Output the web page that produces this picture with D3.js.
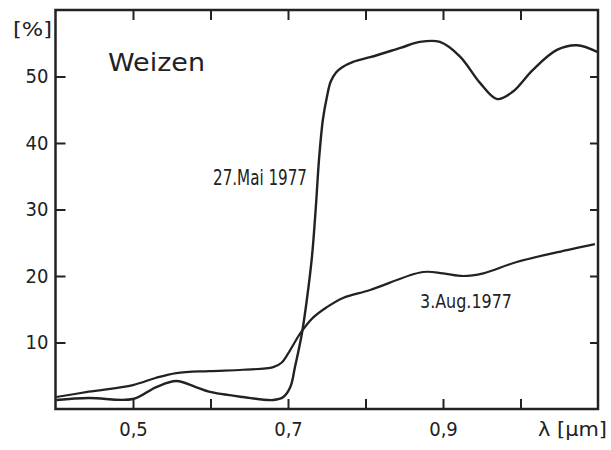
<!DOCTYPE html>
<html>
<head>
<meta charset="utf-8">
<script src="https://cdn.jsdelivr.net/npm/d3@7"></script>
<style>
  body { margin: 0; background: #fff; }
  text { fill: #222; }
</style>
</head>
<body>
<svg id="chart"></svg>
<script>
// wavelength (µm) / reflectance (%)
var maiLambda = [0.401, 0.443, 0.500, 0.530, 0.556, 0.581, 0.598, 0.642, 0.681, 0.694, 0.703, 0.709, 0.718, 0.7245, 0.731, 0.736, 0.740, 0.745, 0.750, 0.755, 0.762, 0.770, 0.784, 0.806, 0.845, 0.870, 0.896, 0.922, 0.948, 0.970, 0.990, 1.016, 1.047, 1.073, 1.099];
var maiValues = [1.35, 1.65, 1.5, 3.3, 4.2, 3.3, 2.6, 1.8, 1.35, 1.8, 3.3, 6.3, 11.4, 16.6, 23.0, 30.5, 37.5, 43.5, 46.8, 49.2, 50.6, 51.4, 52.2, 52.9, 54.3, 55.2, 55.2, 53, 49, 46.6, 47.7, 51, 54, 54.7, 53.7];

var augLambda = [0.401, 0.443, 0.500, 0.530, 0.556, 0.598, 0.642, 0.681, 0.692, 0.703, 0.716, 0.732, 0.750, 0.771, 0.806, 0.874, 0.900, 0.926, 0.952, 0.995, 1.060, 1.096];
var augValues = [1.8, 2.6, 3.6, 4.7, 5.4, 5.7, 5.9, 6.3, 7.0, 8.9, 11.4, 13.7, 15.3, 16.7, 17.9, 20.6, 20.4, 20.0, 20.4, 22.1, 23.9, 24.8];

var xTicks = [0.5, 0.6, 0.7, 0.8, 0.9, 1.0];
var xLabelled = [0.5, 0.7, 0.9];
var yTicks = [10, 20, 30, 40, 50];

var width = 611, height = 450;
var plotL = 55.5, plotR = 598, plotT = 10, plotB = 409;

var svg = d3.select("#chart").attr("width", width).attr("height", height);

var x = d3.scaleLinear().domain([0.4, 1.1]).range([plotL, plotR]);
var y = d3.scaleLinear().domain([0, 60]).range([plotB, plotT]);

var font = "'DejaVu Sans Condensed', 'Liberation Sans Narrow', sans-serif";

function styleAxis(g) {
  g.select(".domain").remove();
  g.selectAll(".tick line").attr("stroke", "#222").attr("stroke-width", 2);
  g.selectAll(".tick text")
    .attr("fill", "#222")
    .style("font-family", font)
    .style("font-size", "20px");
}

svg.append("g")
    .attr("transform", "translate(" + plotL + ",0)")
    .call(d3.axisLeft(y).tickValues(yTicks).tickSize(-10).tickPadding(7).tickFormat(d3.format("d")))
    .call(styleAxis);

svg.append("g")
    .attr("transform", "translate(" + plotR + ",0)")
    .call(d3.axisRight(y).tickValues(yTicks).tickSize(-8).tickFormat(""))
    .call(styleAxis);

svg.append("g")
    .attr("transform", "translate(0," + plotB + ")")
    .call(d3.axisBottom(x).tickValues(xTicks).tickSize(-10).tickPadding(13)
      .tickFormat(function(d) { return xLabelled.indexOf(d) >= 0 ? d3.format(".1f")(d).replace(".", ",") : ""; }))
    .call(styleAxis);

svg.append("g")
    .attr("transform", "translate(0," + plotT + ")")
    .call(d3.axisTop(x).tickValues(xTicks).tickSize(-10).tickFormat(""))
    .call(styleAxis);

svg.append("rect")
    .attr("x", plotL).attr("y", plotT)
    .attr("width", plotR - plotL).attr("height", plotB - plotT)
    .attr("fill", "none").attr("stroke", "#222").attr("stroke-width", 2.5);

var line = d3.line()
    .x(function(d) { return x(d[0]); })
    .y(function(d) { return y(d[1]); })
    .curve(d3.curveCatmullRom.alpha(0.5));

svg.append("path")
    .datum(d3.zip(maiLambda, maiValues))
    .attr("d", line)
    .attr("fill", "none").attr("stroke", "#222").attr("stroke-width", 2.4);

svg.append("path")
    .datum(d3.zip(augLambda, augValues))
    .attr("d", line)
    .attr("fill", "none").attr("stroke", "#222").attr("stroke-width", 2.2);

svg.append("text").attr("x", 13).attr("y", 36).text("[%]")
    .style("font-family", font).style("font-size", "20px")
    .attr("textLength", 39).attr("lengthAdjust", "spacingAndGlyphs");

svg.append("text").attr("x", 108).attr("y", 71).text("Weizen")
    .style("font-family", "'DejaVu Sans', sans-serif").style("font-size", "25px")
    .attr("textLength", 97).attr("lengthAdjust", "spacingAndGlyphs");

svg.append("text").attr("x", 213).attr("y", 185).text("27.Mai 1977")
    .style("font-family", font).style("font-size", "21px")
    .attr("textLength", 94).attr("lengthAdjust", "spacingAndGlyphs");

svg.append("text").attr("x", 420).attr("y", 308).text("3.Aug.1977")
    .style("font-family", font).style("font-size", "19px")
    .attr("textLength", 92).attr("lengthAdjust", "spacingAndGlyphs");

svg.append("text").attr("x", 538).attr("y", 436).text("λ [μm]")
    .style("font-family", font).style("font-size", "20px")
    .attr("textLength", 69).attr("lengthAdjust", "spacingAndGlyphs");
</script>
</body>
</html>
